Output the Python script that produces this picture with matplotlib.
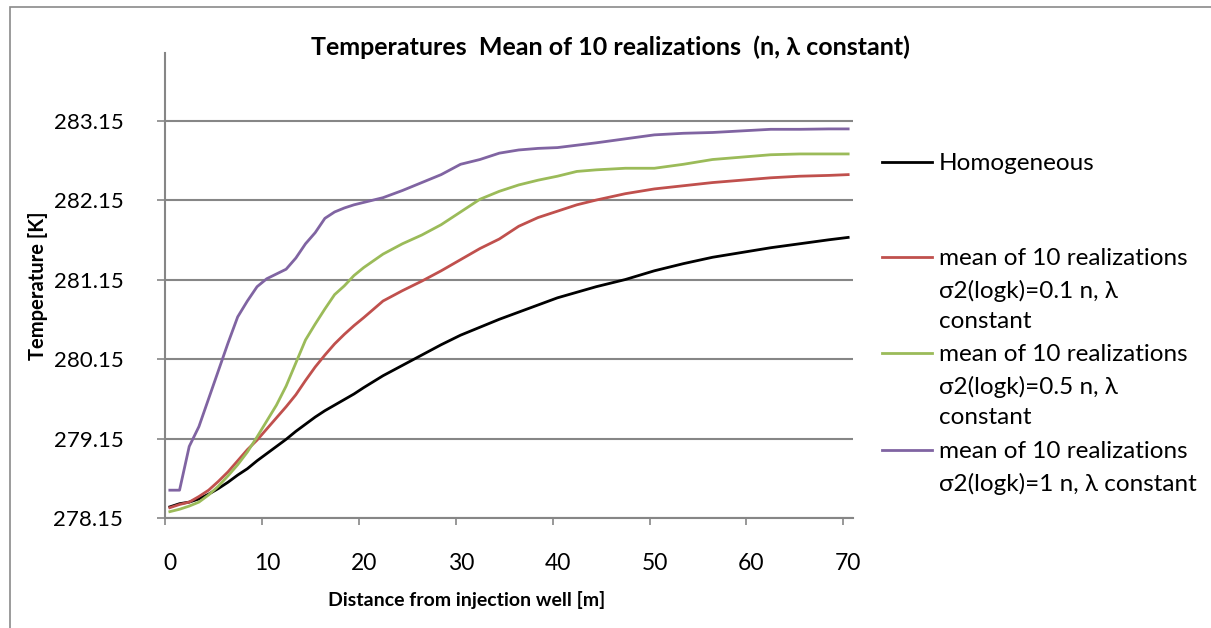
import matplotlib.pyplot as plt
from matplotlib.lines import Line2D
from matplotlib.patches import Rectangle
from matplotlib.transforms import ScaledTranslation

plt.rcParams['font.family'] = ['Lato', 'DejaVu Sans']

# distance from injection well [m]
distance = [0.5, 1.5, 2.5, 3.5, 4.5, 5.5, 6.5, 7.5, 8.5, 9.5, 10.5, 11.5, 12.5,
            13.5, 14.5, 15.5, 16.5, 17.5, 18.5, 19.5, 20.5, 22.5, 24.5, 26.5,
            28.5, 30.5, 32.5, 34.5, 36.5, 38.5, 40.5, 42.5, 44.5, 47.5, 50.5,
            53.5, 56.5, 59.5, 62.5, 65.5, 68.5, 70.5]

# temperatures [K]
homogeneous = [278.29, 278.33, 278.35, 278.39, 278.45, 278.52, 278.60, 278.69,
               278.77, 278.87, 278.96, 279.05, 279.14, 279.24, 279.33, 279.42,
               279.50, 279.57, 279.64, 279.71, 279.79, 279.94, 280.07, 280.20,
               280.33, 280.45, 280.55, 280.65, 280.74, 280.83, 280.92, 280.99,
               281.06, 281.15, 281.26, 281.35, 281.43, 281.49, 281.55, 281.60,
               281.65, 281.68]
sigma_01 = [278.28, 278.32, 278.35, 278.42, 278.50, 278.61, 278.73, 278.87,
            279.01, 279.13, 279.27, 279.41, 279.55, 279.70, 279.88, 280.05,
            280.20, 280.34, 280.46, 280.57, 280.67, 280.88, 281.01, 281.13,
            281.26, 281.40, 281.54, 281.66, 281.82, 281.93, 282.01, 282.09,
            282.15, 282.23, 282.29, 282.33, 282.37, 282.40, 282.43, 282.45,
            282.46, 282.47]
sigma_05 = [278.23, 278.26, 278.30, 278.35, 278.44, 278.55, 278.68, 278.82,
            278.98, 279.17, 279.37, 279.57, 279.81, 280.10, 280.39, 280.59,
            280.78, 280.96, 281.07, 281.20, 281.30, 281.47, 281.60, 281.71,
            281.84, 282.00, 282.16, 282.26, 282.34, 282.40, 282.45, 282.51,
            282.53, 282.55, 282.55, 282.60, 282.66, 282.69, 282.72, 282.73,
            282.73, 282.73]
sigma_1 = [278.50, 278.50, 279.05, 279.30, 279.65, 280.00, 280.35, 280.68,
           280.88, 281.06, 281.16, 281.22, 281.28, 281.42, 281.60, 281.74,
           281.92, 282.00, 282.05, 282.09, 282.12, 282.18, 282.27, 282.37,
           282.47, 282.60, 282.66, 282.74, 282.78, 282.80, 282.81, 282.84,
           282.87, 282.92, 282.97, 282.99, 283.00, 283.02, 283.04, 283.04,
           283.045, 283.045]

labels = ["Homogeneous",
          "mean of 10 realizations\nσ2(logk)=0.1 n, λ\nconstant",
          "mean of 10 realizations\nσ2(logk)=0.5 n, λ\nconstant",
          "mean of 10 realizations\nσ2(logk)=1 n, λ constant"]
colors = ["#000000", "#C0504D", "#9BBB59", "#8064A2"]
yticks = [278.15, 279.15, 280.15, 281.15, 282.15, 283.15]
xticks = [0, 10, 20, 30, 40, 50, 60, 70]

grey = "#868686"
W, H = 1211, 628

fig = plt.figure(figsize=(W / 100, H / 100), dpi=100)
ax = fig.add_axes([165 / W, 1 - 518 / H, (853 - 165) / W, (518 - 53) / H])

for y, c in zip([homogeneous, sigma_01, sigma_05, sigma_1], colors):
    ax.plot(distance, y, color=c, lw=2, solid_joinstyle='round')

ax.set_xlim(0, 71)
ax.set_ylim(278.15, 284.0)
ax.set_yticks(yticks)
ax.set_yticklabels([f"{v:.2f}" for v in yticks])
ax.set_xticks(xticks)
ax.yaxis.grid(True, color=grey, lw=1.5)
ax.set_axisbelow(True)

for s in ["top", "right"]:
    ax.spines[s].set_visible(False)
for s in ["left", "bottom"]:
    ax.spines[s].set_color(grey)
    ax.spines[s].set_linewidth(1.5)
ax.tick_params(axis='y', length=6, width=1.2, color=grey, labelsize=16, pad=24)
ax.tick_params(axis='x', length=5, width=1.2, color=grey, labelsize=16.5, pad=20)

# x tick labels sit a little right of their ticks
shift = ScaledTranslation(5 / 100, 0, fig.dpi_scale_trans)
for lbl in ax.get_xticklabels():
    lbl.set_transform(lbl.get_transform() + shift)

ax.set_xlabel("Distance from injection well [m]", fontsize=14, fontweight='bold')
ax.xaxis.set_label_coords((467 - 165) / 688, -(600 - 518) / 465, transform=ax.transAxes)
ax.xaxis.label.set_va('center')
ax.set_ylabel("Temperature [K]", fontsize=14.5, fontweight='bold', labelpad=4)
fig.text(610 / W, 1 - 47 / H, "Temperatures  Mean of 10 realizations  (n, λ constant)",
         fontsize=18, fontweight='bold', ha='center', va='center')

# legend, handles aligned with the first line of each entry
leg_y = [162, 257, 353, 450]
for y, c, lab in zip(leg_y, colors, labels):
    fig.add_artist(Line2D([882 / W, 932 / W], [1 - y / H] * 2, color=c, lw=2,
                          transform=fig.transFigure))
    fig.text(939 / W, 1 - (y - 9) / H, lab, fontsize=17.5, ha='left', va='top',
             linespacing=1.58)

# chart area border
fig.add_artist(Rectangle((10 / W, -0.1), 1.2, 1.1 - 7 / H, fill=False,
                         edgecolor="#8a8a8a", lw=1.2, transform=fig.transFigure))

fig.savefig("out.png", dpi=100)
